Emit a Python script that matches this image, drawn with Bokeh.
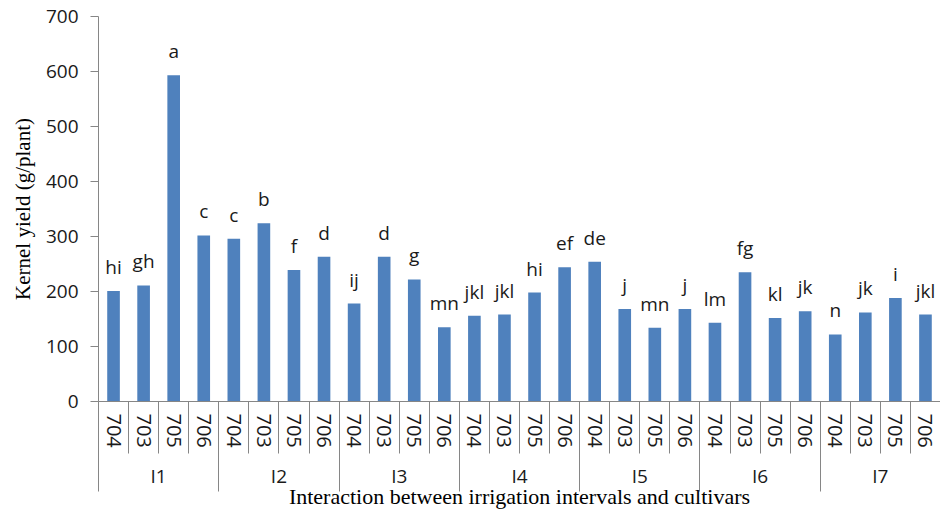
from bokeh.plotting import figure
from bokeh.models import LinearAxis, FixedTicker, Range1d, ColumnDataSource
from bokeh.embed import file_html
from bokeh.resources import INLINE
from bokeh.core.properties import value

groups = ["I1", "I2", "I3", "I4", "I5", "I6", "I7"]
cultivars = ["704", "703", "705", "706"]
yields = [201, 211, 593, 302,
          296, 324, 239, 263,
          178, 263, 222, 135,
          156, 158, 198, 244,
          254, 168, 134, 168,
          143, 235, 152, 164,
          122, 162, 188, 158]
letters = ["hi", "gh", "a", "c",
           "c", "b", "f", "d",
           "ij", "d", "g", "mn",
           "jkl", "jkl", "hi", "ef",
           "de", "j", "mn", "j",
           "lm", "fg", "kl", "jk",
           "n", "jk", "i", "jkl"]
y_ticks = [0, 100, 200, 300, 400, 500, 600, 700]

n = len(yields)
ng = len(cultivars)
xs = [i + 0.5 for i in range(n)]
labels_c = [cultivars[i % ng] for i in range(n)]

src = ColumnDataSource(dict(x=xs, y=yields, lab=letters))

AX = "#868686"
TXT = "#1a1a1a"
FONT = "Open Sans"
SERIF = "Liberation Serif"

p = figure(width=940, height=511, output_backend="svg", toolbar_location=None,
           x_range=Range1d(0, n), y_range=Range1d(0, 700),
           x_axis_type=None, y_axis_type=None,
           min_border_left=98, min_border_right=0, min_border_top=16, min_border_bottom=0)
p.outline_line_color = None
p.xgrid.visible = False
p.ygrid.visible = False

p.vbar(x="x", top="y", width=0.42, source=src, fill_color="#4F81BD", line_color=None)
p.text(x="x", y="y", text="lab", source=src, text_align="center", text_baseline="alphabetic",
       y_offset=-24, text_font=value(FONT), text_font_size="19px", text_color=TXT)

# Y axis
ya = LinearAxis(ticker=FixedTicker(ticks=y_ticks))
ya.axis_label = "Kernel yield (g/plant)"
ya.axis_label_text_font = SERIF
ya.axis_label_text_font_style = "normal"
ya.axis_label_text_font_size = "21px"
ya.axis_label_text_color = "#000000"
ya.axis_label_standoff = 8
ya.major_label_text_font = FONT
ya.major_label_text_font_size = "19px"
ya.major_label_text_color = TXT
ya.major_label_standoff = 12
ya.major_tick_out = 8
ya.major_tick_in = 0
ya.minor_tick_out = 0
ya.minor_tick_in = 0
ya.axis_line_color = AX
ya.major_tick_line_color = AX
p.add_layout(ya, "left")

# Cultivar axis (short separators between every bar)
xa = LinearAxis(ticker=FixedTicker(ticks=xs, minor_ticks=list(range(n + 1))))
xa.major_label_overrides = {x: c for x, c in zip(xs, labels_c)}
xa.major_label_orientation = "vertical"
xa.major_label_text_font = FONT
xa.major_label_text_font_size = "20px"
xa.major_label_text_color = TXT
xa.major_label_standoff = 12
xa.major_tick_out = 0
xa.major_tick_in = 0
xa.minor_tick_out = 0
xa.minor_tick_in = -52
xa.minor_tick_line_color = AX
xa.axis_line_color = AX
p.add_layout(xa, "below")

# Group label axis
g_centers = [ng * i + ng / 2 for i in range(len(groups))]
ga = LinearAxis(ticker=FixedTicker(ticks=g_centers, minor_ticks=[]))
ga.major_label_overrides = {x: g for x, g in zip(g_centers, groups)}
ga.major_label_text_font = FONT
ga.major_label_text_font_size = "19px"
ga.major_label_text_color = TXT
ga.major_label_standoff = 12
ga.major_tick_out = 0
ga.major_tick_in = 0
ga.minor_tick_out = 0
ga.minor_tick_in = 0
ga.axis_line_color = None
p.add_layout(ga, "below")

# Group separators + axis title
gb = LinearAxis(ticker=FixedTicker(ticks=list(range(0, n + 1, ng)), minor_ticks=[]))
gb.major_label_overrides = {float(t): "" for t in range(0, n + 1, ng)}
gb.major_label_text_font_size = "0px"
gb.major_label_standoff = 0
gb.major_tick_in = 89
gb.major_tick_out = 0
gb.major_tick_line_color = AX
gb.minor_tick_in = 0
gb.minor_tick_out = 0
gb.axis_line_color = None
gb.axis_label = "Interaction between irrigation intervals and cultivars"
gb.axis_label_text_font = SERIF
gb.axis_label_text_font_style = "normal"
gb.axis_label_text_font_size = "22px"
gb.axis_label_text_color = "#000000"
gb.axis_label_standoff = -8
p.add_layout(gb, "below")

open("out.html", "w").write(file_html(p, INLINE))
